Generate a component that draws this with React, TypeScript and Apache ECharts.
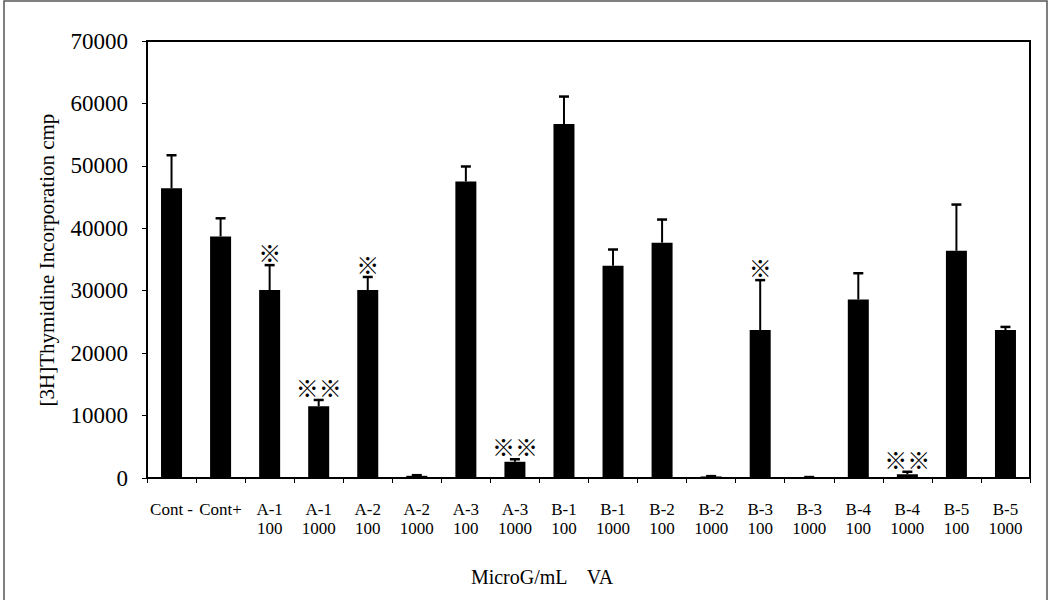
import React, { useEffect, useRef } from "react";
import * as echarts from "echarts";

const categories = [
  "Cont -", "Cont+", "A-1\n100", "A-1\n1000", "A-2\n100", "A-2\n1000", "A-3\n100", "A-3\n1000",
  "B-1\n100", "B-1\n1000", "B-2\n100", "B-2\n1000", "B-3\n100", "B-3\n1000", "B-4\n100", "B-4\n1000",
  "B-5\n100", "B-5\n1000",
];
const means = [46400, 38700, 30100, 11500, 30100, 350, 47500, 2600, 56700, 34000, 37700, 250, 23700, 120, 28600, 600, 36400, 23700];
const errorTops = [51700, 41600, 34100, 12500, 32200, 450, 49900, 3000, 61100, 36600, 41400, 300, 31700, 150, 32800, 1000, 43800, 24200];
const markers = ["", "", "※", "※※", "※", "", "", "※※", "", "", "", "", "※", "", "", "※※", "", ""];
const yTicks = { min: 0, max: 70000, interval: 10000 };
const yTitle = "[3H]Thymidine Incorporation cmp";
const xTitle = "MicroG/mL　VA";

const SERIF = "'Liberation Serif', 'DejaVu Serif', serif";

export default function App() {
  const ref = useRef<HTMLDivElement>(null);
  useEffect(() => {
    if (!ref.current) return;
    const chart = echarts.init(ref.current, null, { renderer: "svg" });
    chart.setOption({
      animation: false,
      backgroundColor: "#ffffff",
      grid: { left: 147, right: 20, top: 41, bottom: 131, show: true, borderColor: "#000", borderWidth: 2 },
      xAxis: {
        type: "category",
        data: categories,
        axisLine: { lineStyle: { color: "#000", width: 1.5 } },
        axisTick: { show: true, interval: 0, alignWithLabel: false, length: 5, lineStyle: { color: "#000" } },
        axisLabel: {
          interval: 0,
          color: "#000",
          fontFamily: SERIF,
          fontSize: 17,
          lineHeight: 19,
          margin: 22,
          verticalAlign: "top",
        },
      },
      yAxis: {
        type: "value",
        min: yTicks.min,
        max: yTicks.max,
        interval: yTicks.interval,
        splitLine: { show: false },
        axisLine: { show: true, lineStyle: { color: "#000", width: 1.5 } },
        axisTick: { show: true, length: 5, lineStyle: { color: "#000" } },
        axisLabel: {
          color: "#000",
          fontFamily: SERIF,
          fontSize: 23,
          margin: 19,
          formatter: (v: number) => String(v),
        },
      },
      graphic: [
        {
          type: "polyline",
          shape: { points: [[4, 600], [4, 1], [1047, 1], [1047, 600]] },
          style: { stroke: "#555", lineWidth: 1.5, fill: "none" },
          silent: true,
        },
        {
          type: "text",
          x: 47,
          y: 260,
          rotation: Math.PI / 2,
          style: {
            text: yTitle,
            fill: "#000",
            font: `21px ${SERIF}`,
            textAlign: "center",
            textVerticalAlign: "middle",
          },
        },
        {
          type: "text",
          x: 542,
          y: 577,
          style: {
            text: xTitle,
            fill: "#000",
            font: `20px ${SERIF}`,
            textAlign: "center",
            textVerticalAlign: "middle",
          },
        },
      ],
      series: [
        {
          type: "bar",
          data: means,
          barWidth: 21,
          itemStyle: { color: "#000" },
        },
        {
          type: "custom",
          data: means.map((m, i) => [i, m, errorTops[i]]),
          renderItem: (params: any, api: any) => {
            const i = api.value(0);
            const base = api.coord([i, api.value(1)]);
            const top = api.coord([i, api.value(2)]);
            const x = base[0];
            return {
              type: "group",
              children: [
                { type: "line", shape: { x1: x, y1: base[1], x2: x, y2: top[1] }, style: { stroke: "#000", lineWidth: 2 } },
                { type: "line", shape: { x1: x - 5, y1: top[1], x2: x + 5, y2: top[1] }, style: { stroke: "#000", lineWidth: 2.5 } },
              ],
            };
          },
          z: 3,
        },
        {
          type: "custom",
          data: errorTops.map((e, i) => [i, e]),
          renderItem: (params: any, api: any) => {
            const idx = params.dataIndex;
            const label = markers[idx];
            if (!label) return null;
            const pt = api.coord([idx, errorTops[idx]]);
            return {
              type: "text",
              x: pt[0],
              y: pt[1] - 13,
              style: {
                text: label,
                fill: "#000",
                font: "23px 'Noto Sans CJK JP', sans-serif",
                textAlign: "center",
                textVerticalAlign: "middle",
              },
            };
          },
          z: 4,
        },
      ],
    });
    return () => chart.dispose();
  }, []);
  return (
    <div
      ref={ref}
      style={{ position: "absolute", left: 0, top: 0, width: 1050, height: 609, background: "#fff" }}
    />
  );
}
